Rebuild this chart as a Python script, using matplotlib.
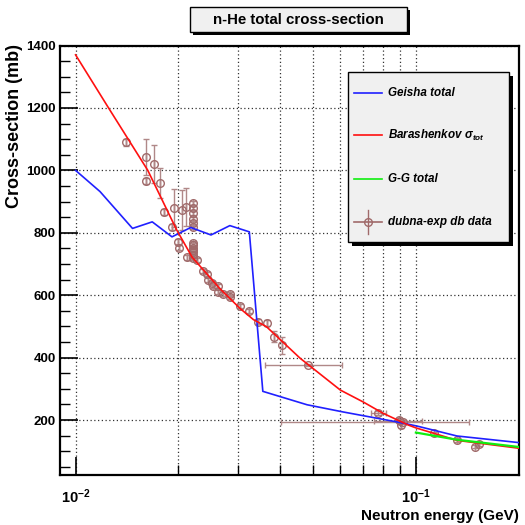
import matplotlib
matplotlib.use("Agg")
import matplotlib.pyplot as plt
from matplotlib import font_manager
from matplotlib.patches import Rectangle
from matplotlib.lines import Line2D
from matplotlib.ticker import MultipleLocator, FixedLocator, NullFormatter

names = {f.name for f in font_manager.fontManager.ttflist}
FONT = 'Liberation Sans Narrow' if 'Liberation Sans Narrow' in names else 'Liberation Sans'
plt.rcParams['font.family'] = [FONT, 'DejaVu Sans']
plt.rcParams['mathtext.fontset'] = 'custom'
plt.rcParams['mathtext.rm'] = FONT + ':bold'
plt.rcParams['mathtext.bf'] = FONT + ':bold'
plt.rcParams['mathtext.it'] = FONT + ':italic:bold'

# ---------------- data ----------------
geisha_e = [0.010, 0.0118, 0.0147, 0.0168, 0.0192, 0.0218, 0.0250, 0.0284, 0.0324, 0.0355,
            0.0479, 0.0611, 0.0880, 0.1006, 0.1320, 0.2000]
geisha_s = [1000, 932, 814, 835, 787, 817, 793, 823, 803, 292,
            249, 226, 194, 181, 149, 128]

bar_e = [0.010, 0.0125, 0.0163, 0.0198, 0.0220, 0.0265, 0.0304, 0.0333, 0.0364, 0.0457,
         0.0600, 0.0700, 0.0800, 0.0950, 0.1000, 0.1320, 0.2000]
bar_s = [1370, 1200, 1000, 810, 722, 622, 558, 522, 499, 398,
         296, 258, 222, 184, 175, 135, 110]

gg_e = [0.100, 0.132, 0.200]
gg_s = [160, 137, 114]

exp_e = [0.01406, 0.01610, 0.01699, 0.01610, 0.01770, 0.01813, 0.01945, 0.01916, 0.02058, 0.02111,
         0.0200, 0.0201, 0.0212,
         0.0222, 0.0222, 0.0222, 0.0222, 0.0222, 0.0222, 0.0222, 0.0222, 0.0222, 0.0222, 0.0222,
         0.0222, 0.0222,
         0.0227, 0.02371, 0.02427, 0.02453, 0.02512, 0.02540, 0.02627, 0.0263, 0.0272, 0.02844,
         0.02844, 0.03041, 0.0324, 0.03443, 0.03645, 0.0383, 0.0404, 0.0483, 0.0776, 0.0897,
         0.0915, 0.0903, 0.0890, 0.1127, 0.1324, 0.1493, 0.1530]
exp_s = [1090, 1042, 1020, 967, 960, 867, 880, 819, 873, 882,
         771, 752, 721,
         895, 880, 863, 844, 831, 818, 768, 760, 752, 745, 738,
         730, 718,
         713, 677, 667, 649, 638, 629, 629, 611, 604, 604,
         595, 565, 550, 515, 510, 467, 440, 376, 222, 197,
         195, 185, 200, 158, 136, 115, 123]
exp_ds = [12, 58, 60, 10, 48, 10, 60, 10, 65, 60,
          8, 8, 8,
          6, 6, 6, 6, 6, 6, 6, 6, 6, 6, 6,
          6, 6,
          6, 6, 6, 6, 6, 6, 6, 6, 6, 6,
          6, 6, 6, 8, 10, 18, 27, 4, 6, 4,
          4, 12, 4, 5, 5, 5, 5]
exp_de = [0] * 43 + [0.0123, 0.0039, 0.0144, 0.0513, 0, 0, 0, 0, 0, 0]

# ---------------- figure ----------------
W = 525
fig = plt.figure(figsize=(5.25, 5.25), dpi=100)
ax = fig.add_axes([60 / W, 1 - 475 / W, (519 - 60) / W, (475 - 45.5) / W])

ax.set_xscale('log')
ax.set_xlim(0.009, 0.2009)
ax.set_ylim(24, 1400)

pcol = '#a06a6a'
ax.errorbar(exp_e, exp_s, yerr=exp_ds, xerr=exp_de, fmt='o', ms=5.5, mfc='none', mec=pcol,
            mew=1.0, ecolor='#b08888', elinewidth=1.0, capsize=2, capthick=1.0, zorder=3)
ax.plot(geisha_e, geisha_s, color='#2020ff', lw=1.2, zorder=4)
ax.plot(bar_e, bar_s, color='#ff1010', lw=1.2, zorder=4)
ax.plot(gg_e, gg_s, color='#10ee10', lw=1.6, zorder=4)

# axes / grid
ax.xaxis.set_major_locator(FixedLocator([0.01, 0.1]))
ax.xaxis.set_minor_locator(FixedLocator([0.02, 0.03, 0.04, 0.05, 0.06, 0.07, 0.08, 0.09]))
ax.xaxis.set_minor_formatter(NullFormatter())
ax.set_xticklabels([r'$\mathbf{10^{-2}}$', r'$\mathbf{10^{-1}}$'])
ax.yaxis.set_major_locator(MultipleLocator(200))
ax.yaxis.set_minor_locator(MultipleLocator(50))
ax.grid(True, which='major', axis='y', color='#333333', ls=(0, (1, 2)), lw=0.9)
ax.grid(True, which='both', axis='x', color='#333333', ls=(0, (1, 2)), lw=0.9)

ax.tick_params(axis='both', which='major', direction='in', length=13, width=1.2,
               top=False, right=False)
ax.tick_params(axis='both', which='minor', direction='in', length=7, width=1.0,
               top=False, right=False)
ax.tick_params(axis='y', pad=3, labelsize=9.5)
ax.tick_params(axis='x', pad=9, labelsize=10.5)
for lab in ax.get_yticklabels():
    lab.set_fontweight('bold')
for sp in ax.spines.values():
    sp.set_linewidth(1.6)

ax.set_xlabel('Neutron energy (GeV)', fontsize=11, fontweight='bold', loc='right', labelpad=2)
fig.text(15 / W, 1 - 44 / W, 'Cross-section (mb)', rotation=90, ha='center', va='top',
         fontsize=13, fontweight='bold')

# title box
tx0, ty0, tx1, ty1 = 190, 7, 407, 32
fig.patches.append(Rectangle(((tx0 + 3) / W, 1 - (ty1 + 3) / W), (tx1 - tx0) / W, (ty1 - ty0) / W,
                             transform=fig.transFigure, facecolor='black', edgecolor='none'))
fig.patches.append(Rectangle((tx0 / W, 1 - ty1 / W), (tx1 - tx0) / W, (ty1 - ty0) / W,
                             transform=fig.transFigure, facecolor='#f0f0f0', edgecolor='black', lw=1))
fig.text((tx0 + tx1) / 2 / W, 1 - (ty0 + ty1 + 1) / 2 / W, 'n-He total cross-section',
         ha='center', va='center', fontsize=10.8, fontweight='bold')

# legend box
lx0, ly0, lx1, ly1 = 348, 72, 509, 242
fig.patches.append(Rectangle(((lx0 + 4) / W, 1 - (ly1 + 4) / W), (lx1 - lx0) / W, (ly1 - ly0) / W,
                             transform=fig.transFigure, facecolor='black', edgecolor='none', zorder=5))
fig.patches.append(Rectangle((lx0 / W, 1 - ly1 / W), (lx1 - lx0) / W, (ly1 - ly0) / W,
                             transform=fig.transFigure, facecolor='#f0f0f0', edgecolor='black', lw=1,
                             zorder=6))
labels = ['Geisha total', r'Barashenkov $\mathregular{\sigma}_{tot}$', 'G-G total', 'dubna-exp db data']
colors = ['#2020ff', '#ff1010', '#10ee10', pcol]
ys = [93, 135, 179, 222]
for lab, c, y in zip(labels, colors, ys):
    fy = 1 - y / W
    fig.lines.append(Line2D([354 / W, 382 / W], [fy, fy], transform=fig.transFigure, color=c, lw=1.2,
                            zorder=7))
    fig.text(388 / W, fy, lab, ha='left', va='center', fontsize=8.4, fontweight='bold',
             style='italic', zorder=7)
fy = 1 - ys[3] / W
fig.lines.append(Line2D([368 / W, 368 / W], [fy - 12 / W, fy + 12 / W], transform=fig.transFigure,
                        color=pcol, lw=1.0, zorder=7))
fig.lines.append(Line2D([368 / W], [fy], transform=fig.transFigure, marker='o', ms=5.5, mfc='none',
                        mec=pcol, mew=1.0, zorder=8))

fig.savefig('out.png', dpi=100)
